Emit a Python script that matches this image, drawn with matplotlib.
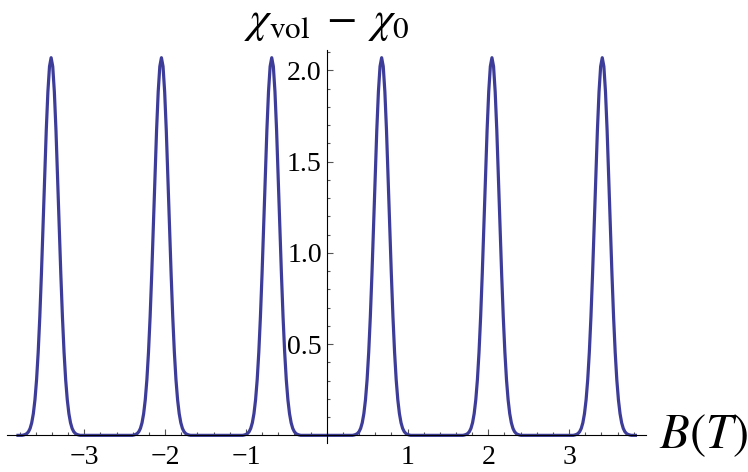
import numpy as np
import matplotlib
matplotlib.use("Agg")
from matplotlib import pyplot as plt
from matplotlib.ticker import FixedLocator

# peak centres (T) and one peak's half profile
centres = [-3.41, -2.045, -0.68, 0.68, 2.045, 3.41]
offsets = [0.00, 0.02, 0.04, 0.06, 0.08, 0.10, 0.12, 0.14, 0.16, 0.18,
           0.20, 0.22, 0.24, 0.26, 0.28, 0.30, 0.32, 0.34, 0.36]
profile = [2.070, 2.022, 1.883, 1.673, 1.418, 1.147, 0.884, 0.650, 0.456, 0.305,
           0.195, 0.119, 0.069, 0.038, 0.020, 0.010, 0.005, 0.002, 0.0]
b_start, b_end = -3.82, 3.82

xticks = [-3, -2, -1, 1, 2, 3]
yticks = [0.5, 1.0, 1.5, 2.0]

# assemble the curve
xs = [b_start]
ys = [0.0]
for c in centres:
    for o, v in zip(offsets[::-1], profile[::-1]):
        xs.append(c - o)
        ys.append(v)
    for o, v in zip(offsets[1:], profile[1:]):
        xs.append(c + o)
        ys.append(v)
xs.append(b_end)
ys.append(0.0)

plt.rcParams['mathtext.fontset'] = 'stix'
plt.rcParams['font.family'] = ['Liberation Serif', 'DejaVu Serif']

fig = plt.figure(figsize=(7.48, 4.72), dpi=100)
ax = fig.add_axes([0.010, 0.0614, 0.8535, 0.8326])

ax.plot(xs, ys, color='#3d3d99', lw=2.3, solid_joinstyle='round')

ax.set_xlim(-3.95, 3.95)
ax.set_ylim(-0.042, 2.112)

for s in ['top', 'right']:
    ax.spines[s].set_visible(False)
ax.spines['left'].set_position(('data', 0))
ax.spines['bottom'].set_position(('data', 0))
ax.spines['left'].set_linewidth(0.8)
ax.spines['bottom'].set_linewidth(0.8)

ax.set_xticks(xticks)
ax.set_xticklabels([str(t).replace('-', '\u2212') for t in xticks])
ax.set_yticks(yticks)
ax.set_yticklabels(['%.1f' % t for t in yticks])
xminor = [round(v, 1) for v in np.arange(-3.8, 3.81, 0.2)]
ax.xaxis.set_minor_locator(FixedLocator(xminor))
ymin = [round(v, 1) for v in np.arange(0.1, 2.11, 0.1)]
ax.yaxis.set_minor_locator(FixedLocator(ymin))

ax.tick_params(which='both', direction='in', color='#555555', width=0.8,
               labelsize=20)
ax.tick_params(which='major', length=4.5)
ax.tick_params(which='minor', length=2.5)
ax.tick_params(axis='x', pad=7)
ax.tick_params(axis='y', pad=3.5)

fig.text(327 / 748, 1 - 23 / 472, r'$\chi_{\mathrm{vol}}\;-\;\chi_{0}$',
         ha='center', va='center', fontsize=32)
fig.text(659 / 748, 1 - 436 / 472, r'$B(T)$', ha='left', va='center',
         fontsize=35)

fig.savefig('out.png', dpi=100)
